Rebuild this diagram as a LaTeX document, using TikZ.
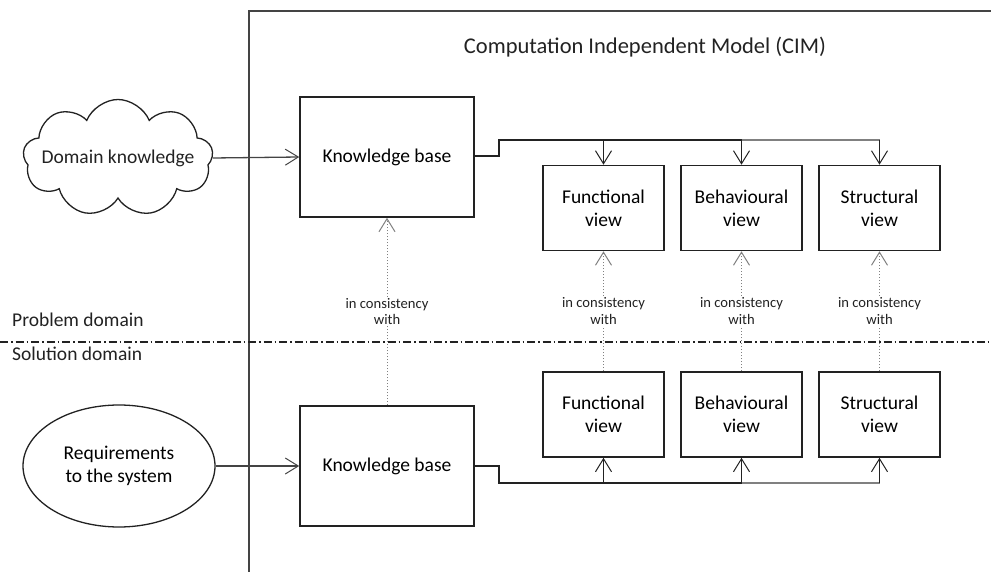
\documentclass[tikz,border=0pt]{standalone}
\usepackage{fontspec}
\setmainfont{Carlito}
\usetikzlibrary{arrows.meta,shapes.symbols,shapes.geometric}
\definecolor{ink}{HTML}{222222}
\definecolor{frm}{HTML}{444444}
\tikzset{
  box/.style={draw=ink,line width=1.6pt,minimum width=174pt,minimum height=120pt,inner sep=2pt,align=center,font=\fontsize{19.5}{23.4}\selectfont},
  viewbox/.style={draw=ink,line width=1.6pt,minimum width=121pt,minimum height=85pt,inner sep=2pt,align=center,font=\fontsize{19.5}{23.4}\selectfont},
  txt/.style={inner sep=0pt,align=center,font=\fontsize{19.5}{23.4}\selectfont,text=ink},
  lbl/.style={fill=white,inner sep=1pt,align=center,font=\fontsize{14.6}{16.8}\selectfont,text=ink},
  conn/.style={draw=ink,line width=1.3pt},
  tip/.style={-{Straight Barb[length=13pt,width=16pt,line width=1pt]}},
  dotline/.style={draw=gray,line width=0.8pt,dash pattern=on 1pt off 2pt},
  divider/.style={draw=ink,line width=1.2pt,dash pattern=on 8pt off 3pt on 1.5pt off 3pt},
}
\begin{document}
\begin{tikzpicture}[x=1pt,y=-1pt]
\useasboundingbox (0,0) rectangle (991,572);
% frame
\coordinate (fa) at (249,572);
\coordinate (fb) at (249,11);
\coordinate (fc) at (991,11);
\draw[draw=frm,line width=1.2pt] (fa) -- (fb) -- (fc);
\node[txt,font=\fontsize{22.5}{27}\selectfont] (title) at (645,47) {Computation Independent Model (CIM)};
% divider
\coordinate (dl) at (0,342);
\coordinate (dr) at (991,342);
\draw[divider] (dl) -- (dr);
\node[txt,anchor=west] (pd) at (12,320) {Problem domain};
\node[txt,anchor=west] (sd) at (12,354) {Solution domain};
% upper part
\node[cloud,draw=ink,line width=1.3pt,cloud puffs=9,cloud puff arc=135,aspect=1.6,minimum width=190pt,minimum height=117pt,inner sep=0pt,
  label={[txt]center:Domain knowledge}] (dk) at (118,158) {};
\node[box] (kb1) at (387,157) {Knowledge base};
\node[viewbox] (fv1) at (603.5,208) {Functional\\view};
\node[viewbox] (bv1) at (741.5,208) {Behavioural\\view};
\node[viewbox] (sv1) at (879.5,208) {Structural\\view};
% lower part
\node[ellipse,draw=ink,line width=1.3pt,minimum width=192pt,minimum height=122pt,inner sep=0pt,align=center,font=\fontsize{19.5}{23.4}\selectfont] (req) at (119,466) {Requirements\\to the system};
\node[box] (kb2) at (387,466) {Knowledge base};
\node[viewbox] (fv2) at (603.5,414.5) {Functional\\view};
\node[viewbox] (bv2) at (741.5,414.5) {Behavioural\\view};
\node[viewbox] (sv2) at (879.5,414.5) {Structural\\view};
% inputs
\draw[conn,tip,draw=frm] (dk.east) -- (kb1.west);
\draw[conn,tip,draw=frm] (req.east) -- (kb2.west);
% upper distribution
\coordinate (u1) at (499,156);
\coordinate (u2) at (499,140);
\draw[conn] (kb1.east |- u1) -- (u1) -- (u2) -- (bv1.north |- u2);
\draw[conn,draw=gray] (bv1.north |- u2) -- (sv1.north |- u2);
\draw[conn,tip] (fv1.north |- u2) -- (fv1.north);
\draw[conn,tip] (bv1.north |- u2) -- (bv1.north);
\draw[conn,tip] (sv1.north |- u2) -- (sv1.north);
% lower distribution
\coordinate (l1) at (499,466);
\coordinate (l2) at (499,483);
\draw[conn] (kb2.east |- l1) -- (l1) -- (l2) -- (bv2.south |- l2);
\draw[conn,draw=gray] (bv2.south |- l2) -- (sv2.south |- l2);
\draw[conn,tip] (fv2.south |- l2) -- (fv2.south);
\draw[conn,tip] (bv2.south |- l2) -- (bv2.south);
\draw[conn,tip] (sv2.south |- l2) -- (sv2.south);
% consistency links
\draw[dotline,tip] (kb2.north) -- node[lbl] {in consistency\\with} (kb1.south);
\draw[dotline,tip] (fv2.north) -- node[lbl] {in consistency\\with} (fv1.south);
\draw[dotline,tip] (bv2.north) -- node[lbl] {in consistency\\with} (bv1.south);
\draw[dotline,tip] (sv2.north) -- node[lbl] {in consistency\\with} (sv1.south);
\end{tikzpicture}
\end{document}
